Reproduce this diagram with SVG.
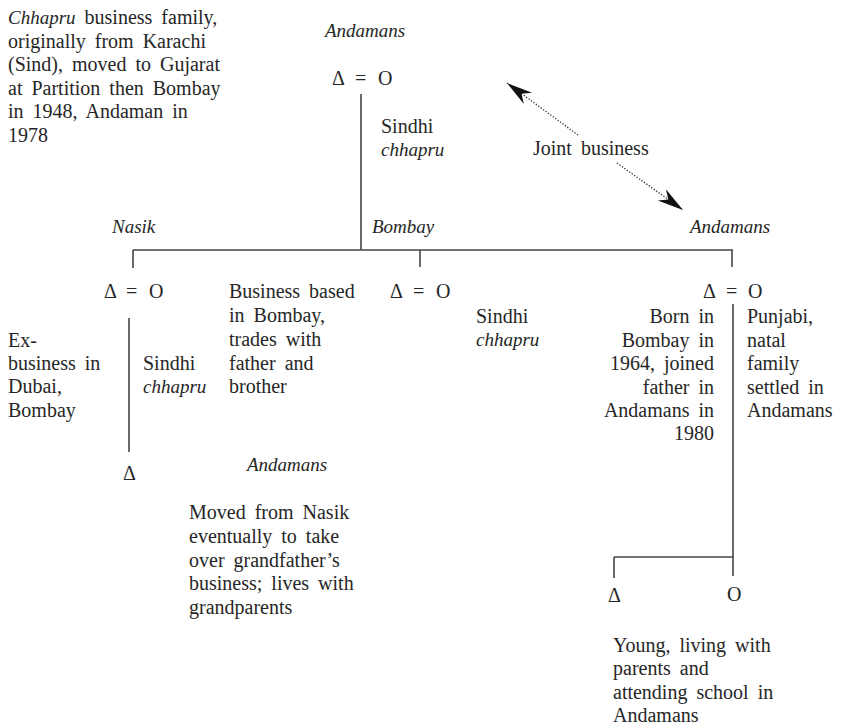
<svg xmlns="http://www.w3.org/2000/svg" width="843" height="725" viewBox="0 0 843 725">
<style>
text{font-family:"Liberation Serif","Times New Roman",serif;font-size:20px;fill:#262626;word-spacing:4px}
.i{font-style:italic;font-size:19px}
.sym{word-spacing:0}
.r{text-anchor:end}
.ln{stroke:#444;stroke-width:1.6;fill:none}
.dot{stroke:#333;stroke-width:1.3;stroke-dasharray:1.3 1.7;fill:none}
</style>
<defs>
<marker id="ah" markerUnits="userSpaceOnUse" markerWidth="30" markerHeight="16" refX="26" refY="7" orient="auto">
<path d="M0,0 L26,7 L0,14 L8,7 z" fill="#111"/>
</marker>
</defs>

<g id="connectors">
<line class="ln" x1="361" y1="94" x2="361" y2="250"/>
<line class="ln" x1="133" y1="250" x2="733" y2="250"/>
<line class="ln" x1="133" y1="250" x2="133" y2="268"/>
<line class="ln" x1="420" y1="250" x2="420" y2="267"/>
<line class="ln" x1="732" y1="250" x2="732" y2="267"/>
<line class="ln" x1="129" y1="318" x2="129" y2="452"/>
<line class="ln" x1="733" y1="304" x2="733" y2="576"/>
<line class="ln" x1="614" y1="557" x2="733" y2="557"/>
<line class="ln" x1="614" y1="557" x2="614" y2="578"/>
<line class="dot" x1="578" y1="135" x2="507" y2="83" marker-end="url(#ah)"/>
<line class="dot" x1="617" y1="163" x2="683" y2="210" marker-end="url(#ah)"/>
</g>

<g id="note-family">
<text x="8" y="24"><tspan class="i" font-size="20">Chhapru</tspan> business family,</text>
<text x="8" y="47.5">originally from Karachi</text>
<text x="8" y="71">(Sind), moved to Gujarat</text>
<text x="8" y="94.5">at Partition then Bombay</text>
<text x="8" y="118">in 1948, Andaman in</text>
<text x="8" y="142">1978</text>
</g>

<g id="couple-top">
<text class="i" x="325" y="37">Andamans</text>
<text class="sym" y="85"><tspan x="332">Δ</tspan><tspan x="355">=</tspan><tspan x="378">O</tspan></text>
<text x="381" y="133">Sindhi</text>
<text class="i" x="381" y="156">chhapru</text>
</g>

<g id="joint-business">
<text x="533" y="155">Joint business</text>
</g>

<g id="couple-left">
<text class="i" x="112" y="233">Nasik</text>
<text class="sym" y="298"><tspan x="104">Δ</tspan><tspan x="126">=</tspan><tspan x="149">O</tspan></text>
<text x="8" y="347">Ex-</text>
<text x="8" y="370">business in</text>
<text x="8" y="393">Dubai,</text>
<text x="8" y="416.5">Bombay</text>
<text x="143" y="370">Sindhi</text>
<text class="i" x="143" y="393">chhapru</text>
<text x="229" y="298">Business based</text>
<text x="229" y="322">in Bombay,</text>
<text x="229" y="346">trades with</text>
<text x="229" y="370">father and</text>
<text x="229" y="393">brother</text>
</g>

<g id="couple-middle">
<text class="i" x="372" y="233">Bombay</text>
<text class="sym" y="298"><tspan x="390">Δ</tspan><tspan x="413">=</tspan><tspan x="436">O</tspan></text>
<text x="476" y="322.5">Sindhi</text>
<text class="i" x="476" y="346">chhapru</text>
</g>

<g id="couple-right">
<text class="i" x="690" y="233">Andamans</text>
<text class="sym" y="298"><tspan x="703">Δ</tspan><tspan x="726">=</tspan><tspan x="748">O</tspan></text>
<text class="r" x="714" y="322.5">Born in</text>
<text class="r" x="714" y="346.5">Bombay in</text>
<text class="r" x="714" y="370">1964, joined</text>
<text class="r" x="714" y="393.5">father in</text>
<text class="r" x="714" y="417">Andamans in</text>
<text class="r" x="714" y="440">1980</text>
<text x="747" y="322.5">Punjabi,</text>
<text x="747" y="346.5">natal</text>
<text x="747" y="370">family</text>
<text x="747" y="393.5">settled in</text>
<text x="747" y="417">Andamans</text>
</g>

<g id="grandson-left">
<text class="sym" x="123" y="480">Δ</text>
<text class="i" x="247" y="471">Andamans</text>
<text x="189" y="519">Moved from Nasik</text>
<text x="189" y="542.7">eventually to take</text>
<text x="189" y="566.5">over grandfather’s</text>
<text x="189" y="590.3">business; lives with</text>
<text x="189" y="614">grandparents</text>
</g>

<g id="child-son">
<text class="sym" x="608" y="602">Δ</text>
</g>

<g id="child-daughter">
<text class="sym" x="727" y="601">O</text>
</g>

<g id="note-children">
<text x="613" y="651.5">Young, living with</text>
<text x="613" y="675">parents and</text>
<text x="613" y="698.5">attending school in</text>
<text x="613" y="722">Andamans</text>
</g>
</svg>
